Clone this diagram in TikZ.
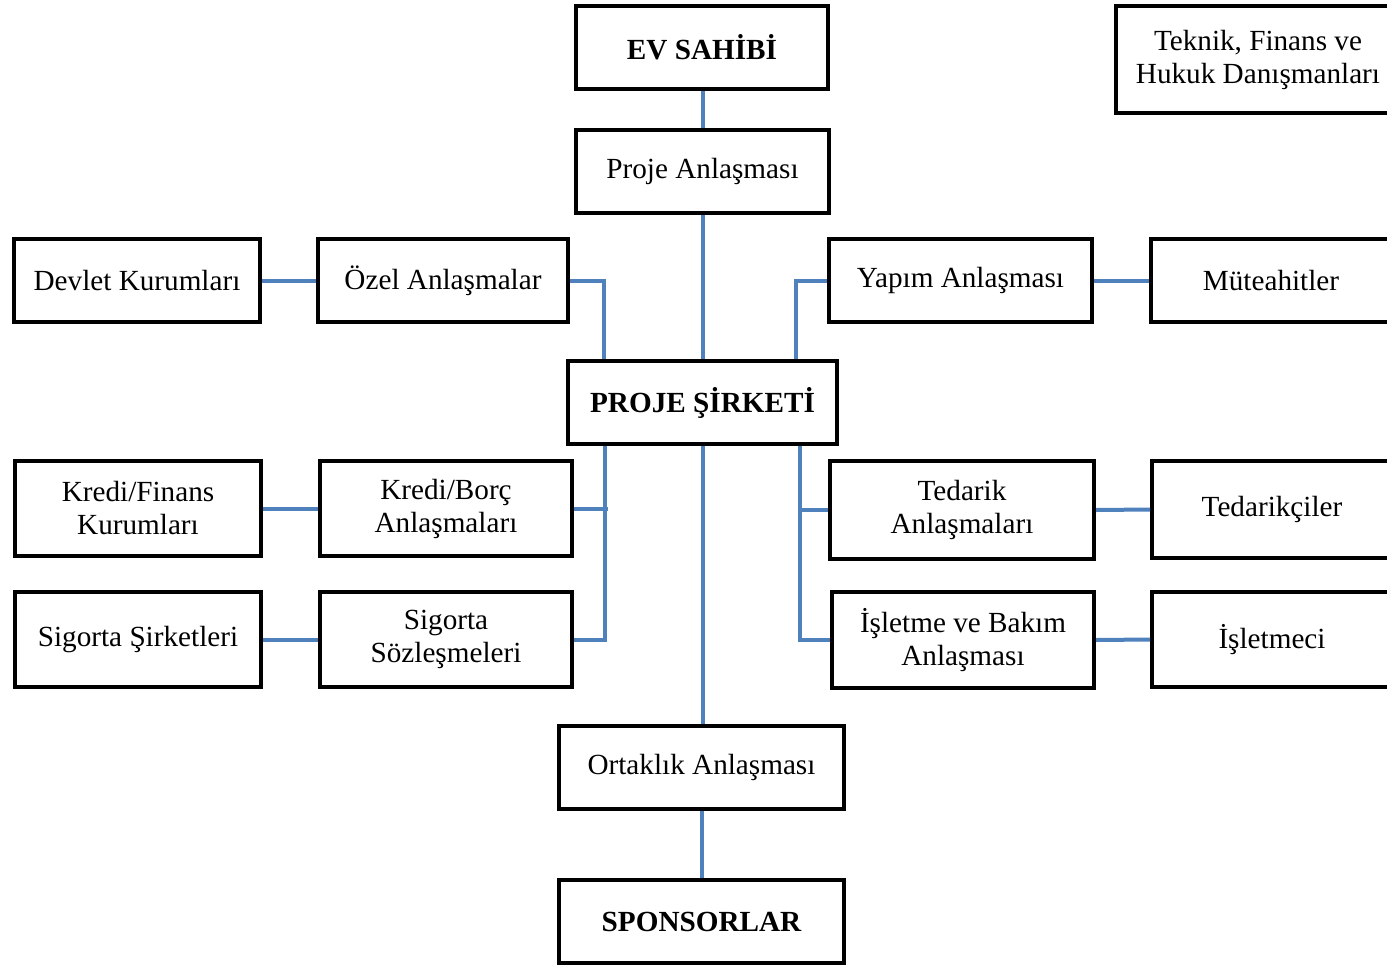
\documentclass[tikz,border=0pt]{standalone}
\usepackage{fontspec}
\setmainfont{Liberation Serif}
\definecolor{linkblue}{RGB}{79,129,189}
\begin{document}
\begin{tikzpicture}[x=1pt,y=-1pt,
  box/.style={draw=black,line width=4pt,rectangle,inner sep=0pt,align=center,
    font=\fontsize{29.2}{33}\selectfont},
  bbox/.style={box,font=\fontsize{29.2}{33}\selectfont\bfseries},
  link/.style={draw=linkblue,line width=4pt}]
\useasboundingbox (0,0) rectangle (1387,967);
\clip (0,0) rectangle (1387,967);
\fill[white] (0,0) rectangle (1387,967);
% nodes
\node[bbox,minimum width=252,minimum height=83] (ev) at (702,47.5) {EV SAHİBİ};
\node[box,minimum width=284,minimum height=107] (teknik) at (1258,59.5) {Teknik, Finans ve\\Hukuk Danışmanları};
\node[box,minimum width=253,minimum height=83] (proje) at (702.5,171.5) {Proje Anlaşması};
\node[box,minimum width=246,minimum height=83] (devlet) at (137,280.5) {Devlet Kurumları};
\node[box,minimum width=250,minimum height=83] (ozel) at (443,280.5) {Özel Anlaşmalar};
\node[box,minimum width=263,minimum height=83] (yapim) at (960.5,280.5) {Yapım Anlaşması};
\node[box,minimum width=241,minimum height=83] (mute) at (1271,280.5) {Müteahitler};
\node[bbox,minimum width=269,minimum height=83] (sirket) at (702.5,402.5) {PROJE ŞİRKETİ};
\node[box,minimum width=246,minimum height=95] (kredifin) at (138,508.5) {Kredi/Finans\\Kurumları};
\node[box,minimum width=252,minimum height=95] (kredibor) at (446,508.5) {Kredi/Borç\\Anlaşmaları};
\node[box,minimum width=264,minimum height=98] (tedarik) at (962,510) {Tedarik\\Anlaşmaları};
\node[box,minimum width=240,minimum height=97] (tedarikci) at (1272,509.5) {Tedarikçiler};
\node[box,minimum width=246,minimum height=95] (sigsir) at (138,639.5) {Sigorta Şirketleri};
\node[box,minimum width=252,minimum height=95] (sigsoz) at (446,639.5) {Sigorta\\Sözleşmeleri};
\node[box,minimum width=262,minimum height=96] (isletme) at (963,640) {İşletme ve Bakım\\Anlaşması};
\node[box,minimum width=240,minimum height=95] (isletmeci) at (1272,639.5) {İşletmeci};
\node[box,minimum width=285,minimum height=83] (ortak) at (701.5,767.5) {Ortaklık Anlaşması};
\node[bbox,minimum width=285,minimum height=83] (sponsor) at (701.5,921.5) {SPONSORLAR};
% helper coordinates
\coordinate (lx) at (604,0);
\coordinate (lx2) at (605,0);
\coordinate (lxe) at (608,0);
\coordinate (rx) at (796,0);
\coordinate (rx2) at (800,0);
\coordinate (cx) at (703,0);
% connectors
\draw[link] (ev.south -| cx) -- (proje.north -| cx);
\draw[link] (proje.south -| cx) -- (sirket.north -| cx);
\draw[link] (ozel.east) -| (sirket.north -| lx);
\draw[link] (sirket.north -| rx) |- (yapim.west);
\draw[link] (devlet.east) -- (ozel.west);
\draw[link] (yapim.east) -- (mute.west);
\draw[link] (sirket.south -| lx2) |- (sigsoz.east);
\draw[link] (kredibor.east) -- (kredibor.east -| lxe);
\draw[link] (sirket.south -| rx2) |- (isletme.west);
\draw[link] (tedarik.west) -- (tedarik.west -| rx2);
\draw[link] (sirket.south -| cx) -- (ortak.north -| cx);
\draw[link] (ortak.south) -- (sponsor.north);
\draw[link] (kredifin.east) -- (kredibor.west);
\draw[link] (sigsir.east) -- (sigsoz.west);
\draw[link] (tedarik.east) -- (tedarikci.west);
\draw[link] (isletme.east) -- (isletmeci.west);
\end{tikzpicture}
\end{document}
